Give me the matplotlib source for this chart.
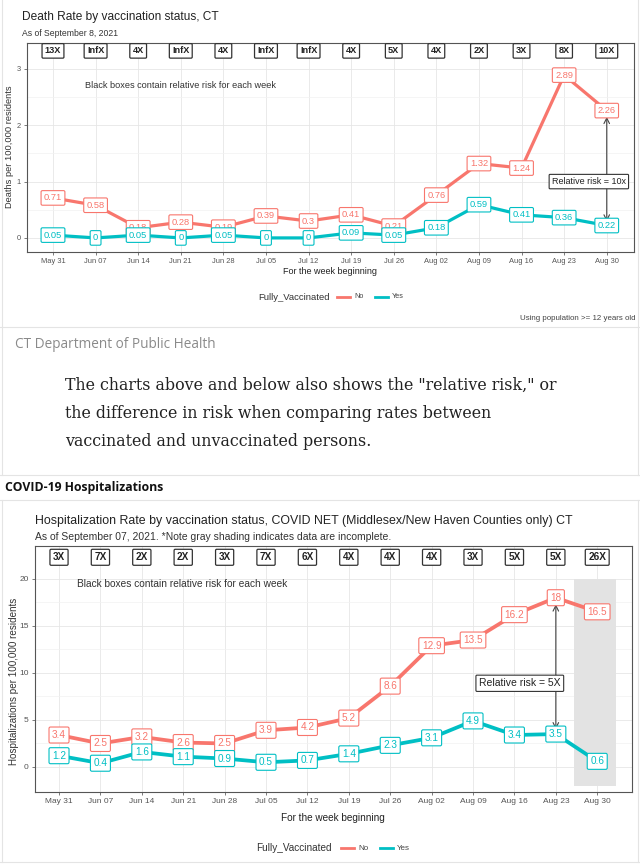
import matplotlib
matplotlib.use("Agg")
import matplotlib.pyplot as plt
from matplotlib.lines import Line2D

# ---------------- data ----------------
weeks = ["May 31", "Jun 07", "Jun 14", "Jun 21", "Jun 28", "Jul 05", "Jul 12",
         "Jul 19", "Jul 26", "Aug 02", "Aug 09", "Aug 16", "Aug 23", "Aug 30"]

death_unvax = [0.71, 0.58, 0.18, 0.28, 0.19, 0.39, 0.3, 0.41, 0.21, 0.76, 1.32, 1.24, 2.89, 2.26]
death_vax = [0.05, 0, 0.05, 0, 0.05, 0, 0, 0.09, 0.05, 0.18, 0.59, 0.41, 0.36, 0.22]
death_rr = ["13X", "InfX", "4X", "InfX", "4X", "InfX", "InfX", "4X", "5X", "4X", "2X", "3X", "8X", "10X"]

hosp_unvax = [3.4, 2.5, 3.2, 2.6, 2.5, 3.9, 4.2, 5.2, 8.6, 12.9, 13.5, 16.2, 18, 16.5]
hosp_vax = [1.2, 0.4, 1.6, 1.1, 0.9, 0.5, 0.7, 1.4, 2.3, 3.1, 4.9, 3.4, 3.5, 0.6]
hosp_rr = ["3X", "7X", "2X", "2X", "3X", "7X", "6X", "4X", "4X", "4X", "3X", "5X", "5X", "26X"]

legend_title = "Fully_Vaccinated"
legend_labels = ["No", "Yes"]

# ---------------- setup ----------------
plt.rcParams['font.family'] = ['Liberation Sans', 'DejaVu Sans']
W, H = 640, 868
fig = plt.figure(figsize=(W / 100, H / 100), dpi=100)
fig.patch.set_facecolor('white')

RED = '#F8766D'
TEAL = '#00BFC4'
FRAME = '#E4E4E4'


def fx(px):
    return px / W


def fy(py):
    return 1 - py / H


def axes_px(l, t, r, b):
    return fig.add_axes([l / W, 1 - b / H, (r - l) / W, (b - t) / H])


def ftext(x, y, s, **kw):
    kw.setdefault('va', 'center')
    return fig.text(fx(x), fy(y), s, **kw)


def hline(y, x0=0, x1=W, color=FRAME, lw=0.8):
    fig.add_artist(Line2D([fx(x0), fx(x1)], [fy(y), fy(y)], color=color, lw=lw))


def vline(x, y0, y1, color=FRAME, lw=0.8):
    fig.add_artist(Line2D([fx(x), fx(x)], [fy(y0), fy(y1)], color=color, lw=lw))


def style_panel(ax, xlim, ylim, yticks, yminor, ls):
    ax.set_xlim(*xlim)
    ax.set_ylim(*ylim)
    ax.set_xticks(range(len(weeks)))
    ax.set_xticklabels(weeks)
    ax.set_yticks(yticks)
    ax.set_yticklabels([f"{t:g}" for t in yticks])
    ax.set_yticks(yminor, minor=True)
    ax.grid(which='major', color='#E6E6E6', lw=0.6)
    ax.grid(which='minor', axis='y', color='#F2F2F2', lw=0.5)
    ax.set_axisbelow(True)
    ax.tick_params(which='major', length=2.5, width=0.6, color='#666666',
                   labelsize=ls, labelcolor='#555555', pad=2)
    ax.tick_params(which='minor', length=0)
    for s in ax.spines.values():
        s.set_color('#555555')
        s.set_linewidth(0.8)


def draw_series(ax, vals, color, fs, lw):
    x = list(range(len(vals)))
    ax.plot(x, vals, color=color, lw=lw, solid_capstyle='round', zorder=3)
    for i, v in enumerate(vals):
        ax.text(i, v, f"{v:g}", ha='center', va='center', fontsize=fs, color=color,
                zorder=5,
                bbox=dict(boxstyle='round,pad=0.3,rounding_size=0.15', fc='white',
                          ec=color, lw=0.8))


def draw_rr(ax, labels, y, fs):
    for i, r in enumerate(labels):
        ax.text(i, y, r, ha='center', va='center', fontsize=fs, color='#222222',
                fontweight='bold', zorder=5,
                bbox=dict(boxstyle='round,pad=0.3,rounding_size=0.12', fc='white',
                          ec='#333333', lw=0.9))


def draw_legend(y, x_title, fs, xs, lab_fs):
    ftext(x_title, y, legend_title, fontsize=fs, color='#333333', ha='left')
    for (xl, lab, col) in zip(xs, legend_labels, [RED, TEAL]):
        fig.add_artist(Line2D([fx(xl), fx(xl + 13)], [fy(y), fy(y)], color=col, lw=2.0))
        ftext(xl + 17, y, lab, fontsize=lab_fs, color='#444444', ha='left')


# ---------------- outer frames ----------------
vline(2, 0, 475)
vline(638, 0, 475)
hline(327)
hline(475)
hline(500)
vline(2, 500, 862)
vline(638, 500, 862)
hline(862)

# ---------------- chart 1: deaths ----------------
ftext(22, 17, "Death Rate by vaccination status, CT", fontsize=8.6, color='#222222', ha='left')
ftext(22, 33, "As of September 8, 2021", fontsize=6.2, color='#333333', ha='left')

ax1 = axes_px(27, 43, 634, 252)
style_panel(ax1, (-0.61, 13.64), (-0.25, 3.46), [0, 1, 2, 3], [0.5, 1.5, 2.5], 5.4)
draw_series(ax1, death_unvax, RED, 6.7, 2.3)
draw_series(ax1, death_vax, TEAL, 6.7, 2.3)
draw_rr(ax1, death_rr, 3.32, 6.6)
ax1.text(0.75, 2.7, "Black boxes contain relative risk for each week", fontsize=6.6,
         color='#333333', ha='left', va='center')
ax1.annotate('', xy=(13, 0.29), xytext=(13, 2.15),
             arrowprops=dict(arrowstyle='<->', color='#444444', lw=0.8,
                             shrinkA=0, shrinkB=0), zorder=4)
ax1.text(12.58, 1.0, "Relative risk = 10x", ha='center', va='center', fontsize=6.5,
         color='#222222', zorder=6,
         bbox=dict(boxstyle='round,pad=0.3,rounding_size=0.1', fc='white', ec='#333333', lw=0.8))
ftext(10, 147, "Deaths per 100,000 residents", fontsize=6.7, color='#333333',
      rotation=90, ha='center')
ftext(330, 271, "For the week beginning", fontsize=6.5, color='#222222', ha='center')
draw_legend(297, 258, 6.8, [337, 375], 5.2)
ftext(636, 318, "Using population >= 12 years old", fontsize=5.7, color='#444444', ha='right')

# ---------------- middle text ----------------
ftext(15, 345, "CT Department of Public Health", fontsize=9.8, color='#8A8A8A', ha='left',
      family=['Open Sans', 'DejaVu Sans'])
para = ["The charts above and below also shows the \"relative risk,\" or",
        "the difference in risk when comparing rates between",
        "vaccinated and unvaccinated persons."]
for k, line in enumerate(para):
    ftext(65, 385 + 28 * k, line, fontsize=11.4, color='#222222', ha='left',
          family=['DejaVu Serif'])
ftext(5, 488, "COVID-19 Hospitalizations", fontsize=8.8, color='#111111', ha='left',
      fontweight='bold', family=['Open Sans', 'DejaVu Sans'])

# ---------------- chart 2: hospitalizations ----------------
ftext(35, 521, "Hospitalization Rate by vaccination status, COVID NET (Middlesex/New Haven Counties only) CT",
      fontsize=8.9, color='#222222', ha='left')
ftext(35, 537, "As of September 07, 2021. *Note gray shading indicates data are incomplete.",
      fontsize=7.5, color='#333333', ha='left')

ax2 = axes_px(35, 546, 632, 792)
style_panel(ax2, (-0.58, 13.84), (-2.66, 23.5), [0, 5, 10, 15, 20], [2.5, 7.5, 12.5, 17.5], 6.0)
ax2.axvspan(12.45, 13.45, ymin=(-2 + 2.66) / (23.5 + 2.66), ymax=(20 + 2.66) / (23.5 + 2.66),
            color='#E3E3E3', zorder=1, lw=0)
draw_series(ax2, hosp_unvax, RED, 7.2, 2.7)
draw_series(ax2, hosp_vax, TEAL, 7.2, 2.7)
draw_rr(ax2, hosp_rr, 22.3, 7.2)
ax2.text(0.43, 19.5, "Black boxes contain relative risk for each week", fontsize=7.3,
         color='#333333', ha='left', va='center')
ax2.annotate('', xy=(12, 4.0), xytext=(12, 17.3),
             arrowprops=dict(arrowstyle='<->', color='#444444', lw=0.8,
                             shrinkA=0, shrinkB=0), zorder=4)
ax2.text(11.13, 8.9, "Relative risk = 5X", ha='center', va='center', fontsize=7.5,
         color='#222222', zorder=6,
         bbox=dict(boxstyle='round,pad=0.3,rounding_size=0.1', fc='white', ec='#333333', lw=0.8))
ftext(14, 681, "Hospitalizations per 100,000 residents", fontsize=7.1, color='#333333',
      rotation=90, ha='center')
ftext(333, 818, "For the week beginning", fontsize=7.2, color='#222222', ha='center')
draw_legend(848, 256, 7.2, [341, 380], 5.8)

fig.savefig("out.png", dpi=100, facecolor='white')
